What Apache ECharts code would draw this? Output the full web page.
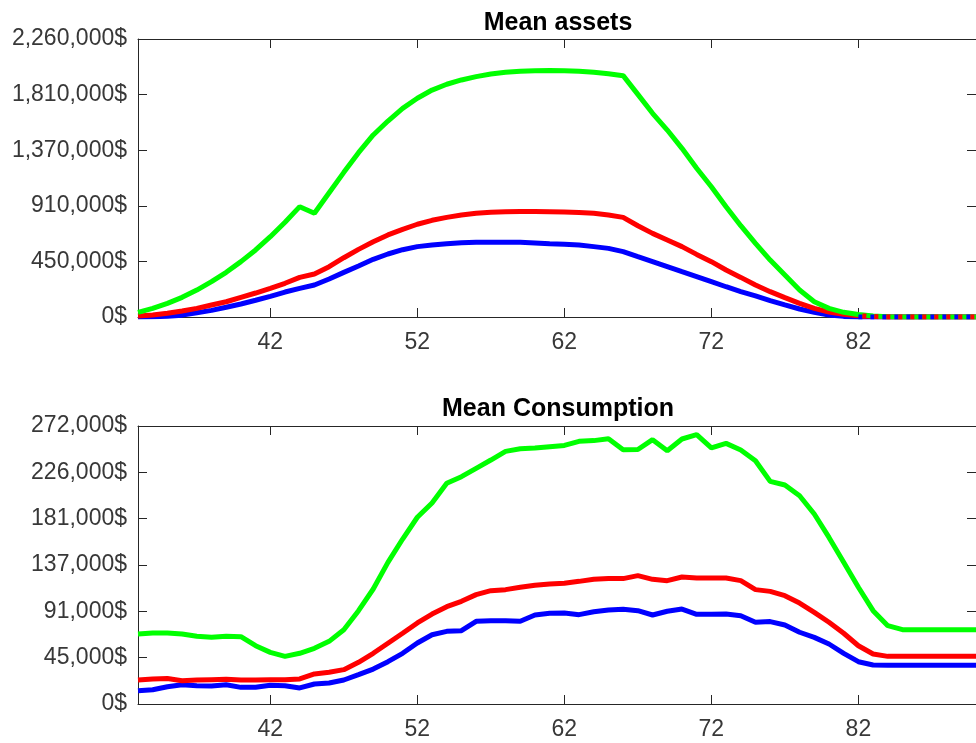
<!DOCTYPE html>
<html>
<head>
<meta charset="utf-8">
<script src="https://cdn.jsdelivr.net/npm/echarts@6/dist/echarts.min.js"></script>
<style>
  html, body { margin: 0; padding: 0; background: #fff; }
  #chart { width: 976px; height: 743px; }
</style>
</head>
<body>
<div id="chart"></div>
<script>
// Age axis
const ages = [33,34,35,36,37,38,39,40,41,42,43,44,45,46,47,48,49,50,51,52,53,54,55,56,57,58,59,60,61,
              62,63,64,65,66,67,68,69,70,71,72,73,74,75,76,77,78,79,80,81,82,83,84,85,86,87,88,89,90];

// Mean assets by age ($)
const assetsGreen = [38000,70000,111000,160000,219000,287000,363000,450000,545000,653000,770000,897000,843000,
  1010000,1176000,1336000,1480000,1593000,1696000,1778000,1845000,1892000,1927000,1954000,1975000,1989000,
  1997000,2002000,2004000,2002000,1997000,1989000,1978000,1962000,1810000,1656000,1520000,1371000,1209000,
  1059000,897000,742000,599000,463000,341000,219000,124000,70000,38000,20000,8000,2000,0,0,0,0,0,0];
const assetsRed = [8000,16000,30000,49000,70000,98000,124000,160000,195000,233000,274000,322000,350000,409000,
  482000,550000,612000,667000,713000,754000,786000,810000,829000,843000,851000,856000,858000,858000,856000,
  854000,850000,843000,829000,810000,742000,680000,626000,572000,509000,450000,382000,322000,260000,206000,
  157000,111000,70000,41000,22000,11000,4000,1000,0,0,0,0,0,0];
const assetsBlue = [0,2000,6000,15000,35000,54000,79000,106000,136000,168000,203000,233000,260000,309000,
  363000,415000,469000,512000,547000,572000,585000,596000,604000,607000,608000,608000,607000,602000,596000,
  591000,585000,572000,558000,531000,490000,450000,409000,368000,328000,287000,246000,206000,171000,133000,
  98000,65000,38000,16000,5000,1000,0,0,0,0,0,0,0,0];

// Mean consumption by age ($)
const consGreen = [68500,69500,69500,68500,66200,65200,66200,65900,57000,50500,46600,49600,54500,61300,72700,
  91300,112500,138600,161400,182700,196700,215900,222400,230600,238700,247200,249800,250500,251800,253000,
  257000,257700,259600,248800,249000,258600,247800,259300,263500,250500,255000,248500,238000,217800,214300,
  203800,185900,163000,138600,114200,91300,76600,72700,72700,72700,72700,72700,72700];
const consRed = [23500,24500,25000,22800,23500,23800,24100,23500,23500,23800,23800,24500,29400,31000,33600,
  40800,49600,59400,69200,79300,88000,95200,100500,107000,110900,111900,114200,116100,117400,118100,120000,
  122000,122700,122700,125600,122000,120700,124300,123300,123300,123300,120700,111900,110200,106000,98800,
  89700,80000,69200,57000,48900,46600,46600,46600,46600,46600,46600,46600];
const consBlue = [13000,14000,16900,18900,17900,17600,18900,16300,16300,18300,17900,15700,19600,20500,23500,
  28700,34200,41400,49600,59700,67800,71100,71700,80900,81500,81500,80900,87100,88700,89000,87400,90300,
  92000,92600,91300,87100,90700,92900,87700,87700,88000,86400,80000,80600,77300,70200,65200,58700,49600,
  41400,38200,37800,37800,37800,37800,37800,37800,37800];

// Tick positions and labels
const xTicks = [42, 52, 62, 72, 82];
const assetsTicks = [0, 452000, 904000, 1356000, 1808000, 2260000];
const assetsTickLabels = ['0$', '450,000$', '910,000$', '1,370,000$', '1,810,000$', '2,260,000$'];
const consTicks = [0, 45333, 90667, 136000, 181333, 226667, 272000];
const consTickLabels = ['0$', '45,000$', '91,000$', '137,000$', '181,000$', '226,000$', '272,000$'];

const AXIS = '#262626';
const LABEL = '#383838';
const FONT = 'Liberation Sans';
const C_GREEN = '#00ff00', C_RED = '#ff0000', C_BLUE = '#0000ff';

const pairs = (vals) => ages.map((a, i) => [a, vals[i]]);
// Overlapping zero-valued tail, drawn as interleaved dashes
const tailFromAge = 82;
const tail = (vals) => ages.map((a, i) => [a, vals[i]]).filter(p => p[0] >= tailFromAge);

const grids = [
  { left: 138, top: 39, width: 842, height: 278 },
  { left: 138, top: 426, width: 842, height: 278 }
];

function xAxes(gridIndex) {
  const base = {
    type: 'value', min: 33, max: 90, gridIndex,
    axisLine: { show: true, onZero: false, lineStyle: { color: AXIS, width: 1 } },
    axisTick: { show: true, inside: true, length: 9, customValues: xTicks, lineStyle: { color: AXIS } },
    splitLine: { show: false }
  };
  return [
    Object.assign({}, base, {
      position: 'bottom',
      axisLabel: { show: true, customValues: xTicks, margin: 14, color: LABEL, fontSize: 23, fontFamily: FONT }
    }),
    Object.assign({}, base, { position: 'top', axisLabel: { show: false } })
  ];
}

function yAxes(gridIndex, ticks, labels) {
  const max = ticks[ticks.length - 1];
  const base = {
    type: 'value', min: 0, max, gridIndex,
    axisLine: { show: true, onZero: false, lineStyle: { color: AXIS, width: 1 } },
    axisTick: { show: true, inside: true, length: 9, customValues: ticks, lineStyle: { color: AXIS } },
    splitLine: { show: false }
  };
  return [
    Object.assign({}, base, {
      position: 'left',
      axisLabel: {
        show: true, customValues: ticks, margin: 11, color: LABEL, fontSize: 23, fontFamily: FONT,
        formatter: (v) => labels[ticks.indexOf(v)]
      }
    }),
    Object.assign({}, base, { position: 'right', axisLabel: { show: false } })
  ];
}

function line(name, xi, yi, data, color, extra) {
  return Object.assign({
    name, type: 'line', xAxisIndex: xi, yAxisIndex: yi, data,
    showSymbol: false, symbol: 'none', silent: true, animation: false,
    lineStyle: { color, width: 5 }
  }, extra || {});
}

const option = {
  backgroundColor: '#ffffff',
  animation: false,
  title: [
    { text: 'Mean assets', left: 553, top: 6, textAlign: 'center',
      textStyle: { fontSize: 25, fontWeight: 'bold', color: '#000', fontFamily: FONT } },
    { text: 'Mean Consumption', left: 553, top: 392, textAlign: 'center',
      textStyle: { fontSize: 25, fontWeight: 'bold', color: '#000', fontFamily: FONT } }
  ],
  grid: grids,
  xAxis: [...xAxes(0), ...xAxes(1)],
  yAxis: [...yAxes(0, assetsTicks, assetsTickLabels), ...yAxes(1, consTicks, consTickLabels)],
  series: [
    line('Assets low', 0, 0, pairs(assetsBlue), C_BLUE),
    line('Assets mid', 0, 0, pairs(assetsRed), C_RED),
    line('Assets high', 0, 0, pairs(assetsGreen), C_GREEN),
    line('Assets low tail', 0, 0, tail(assetsBlue), C_BLUE,
      { lineStyle: { color: C_BLUE, width: 5, type: [4, 8], dashOffset: 0, cap: 'butt' } }),
    line('Assets mid tail', 0, 0, tail(assetsRed), C_RED,
      { lineStyle: { color: C_RED, width: 5, type: [4, 8], dashOffset: 8, cap: 'butt' } }),
    line('Consumption low', 2, 2, pairs(consBlue), C_BLUE),
    line('Consumption mid', 2, 2, pairs(consRed), C_RED),
    line('Consumption high', 2, 2, pairs(consGreen), C_GREEN)
  ]
};

const chart = echarts.init(document.getElementById('chart'), null, { renderer: 'canvas' });
chart.setOption(option);
</script>
</body>
</html>
